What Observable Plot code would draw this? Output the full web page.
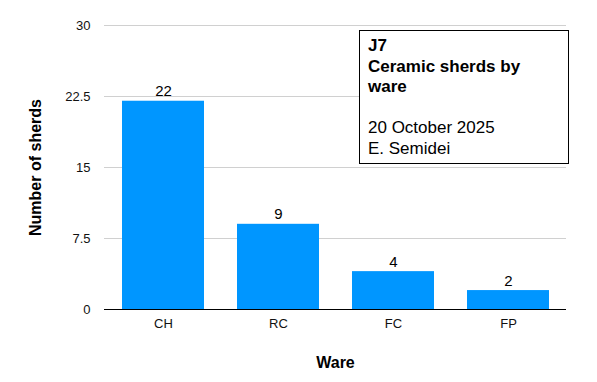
<!DOCTYPE html>
<html>
<head>
<meta charset="utf-8">
<script src="https://cdn.jsdelivr.net/npm/d3@7"></script>
<script src="https://cdn.jsdelivr.net/npm/@observablehq/plot@0.6"></script>
<style>
  html, body { margin: 0; padding: 0; background: #fff; }
  #wrap { position: relative; width: 597px; height: 382px; font-family: "Liberation Sans", Arial, Helvetica, sans-serif; }
  #note {
    position: absolute; left: 359px; top: 30px; width: 210px; height: 134px;
    box-sizing: border-box; border: 1px solid #000; background: #fff;
    padding: 5px 0 0 8px; font-size: 17px; line-height: 20.5px; color: #000;
  }
  #note b { font-weight: bold; }
</style>
</head>
<body>
<div id="wrap"></div>
<script>
const wares = ["CH", "RC", "FC", "FP"];
const counts = [22, 9, 4, 2];
const yTicks = [0, 7.5, 15, 22.5, 30];
const noteTitle = ["J7", "Ceramic sherds by", "ware"];
const noteLines = ["20 October 2025", "E. Semidei"];

const data = wares.map((w, i) => ({ware: w, count: counts[i]}));

const chart = Plot.plot({
  width: 597,
  height: 382,
  marginLeft: 104,
  marginRight: 31,
  marginTop: 25,
  marginBottom: 73,
  style: "font-family: 'Liberation Sans', Arial, Helvetica, sans-serif; font-size: 13px; color: #000; background: #fff;",
  x: { domain: wares, paddingInner: 0.29, paddingOuter: 0.145, label: null },
  y: { domain: [0, 30], label: null },
  marks: [
    Plot.gridY(yTicks.filter(d => d !== 0), { stroke: "#d0d0d0", strokeOpacity: 1 }),
    Plot.barY(data, { x: "ware", y: "count", fill: "#0096ff" }),
    Plot.ruleY([0], { stroke: "#000", strokeWidth: 1 }),
    Plot.axisY(yTicks, { tickSize: 0, tickPadding: 14, fontSize: 13, fill: "#111", label: null, tickFormat: d => String(d) }),
    Plot.axisX({ tickSize: 0, tickPadding: 9, fontSize: 13, fill: "#111", label: null }),
    Plot.text(data, { x: "ware", y: "count", text: d => String(d.count), lineAnchor: "bottom", dy: -5, fontSize: 15, fill: "#000" }),
    Plot.text(["Ware"], { frameAnchor: "bottom", textAnchor: "middle", lineAnchor: "middle", dy: 53, fontSize: 16, fontWeight: "bold", fill: "#000" }),
    Plot.text(["Number of sherds"], { frameAnchor: "left", textAnchor: "middle", lineAnchor: "middle", dx: -69, rotate: -90, fontSize: 16, fontWeight: "bold", fill: "#000" })
  ]
});

const wrap = document.getElementById("wrap");
wrap.appendChild(chart);
const note = document.createElement("div");
note.id = "note";
note.innerHTML = noteTitle.map(t => `<b>${t}</b>`).join("<br>") + "<br><br>" + noteLines.join("<br>");
wrap.appendChild(note);
</script>
</body>
</html>
